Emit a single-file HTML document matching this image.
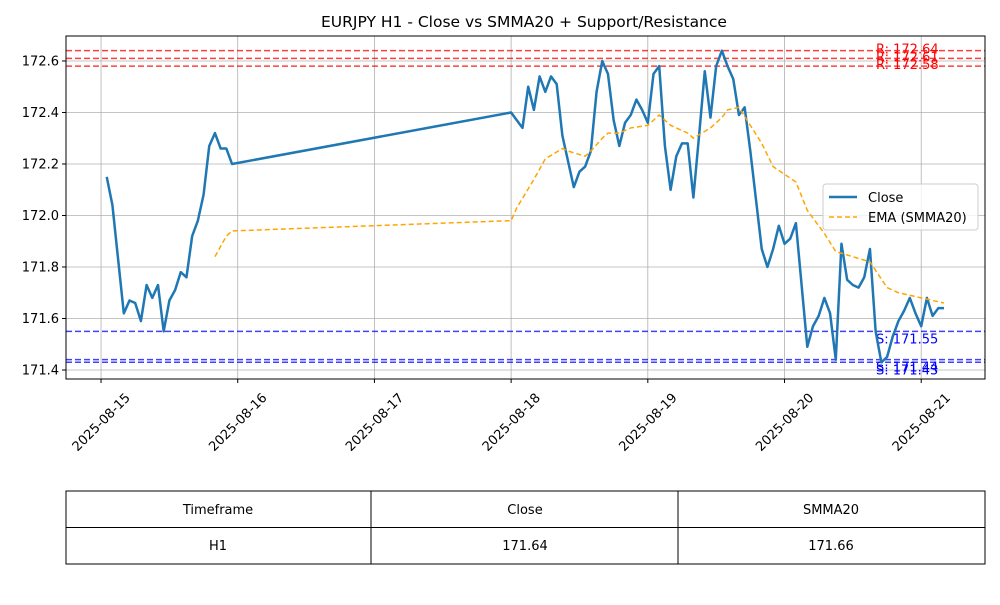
<!DOCTYPE html>
<html><head><meta charset="utf-8"><style>
body{margin:0;background:#fff;font-family:"Liberation Sans","DejaVu Sans",sans-serif;}
svg text{font-family:"DejaVu Sans","Liberation Sans",sans-serif;}
</style></head><body>
<svg id="chart" width="1000" height="600">
<rect width="1000" height="600" fill="#fff"/>
<text x="524" y="27" font-size="15.5" text-anchor="middle">EURJPY H1 - Close vs SMMA20 + Support/Resistance</text>
<g id="grid"></g><g id="levels"></g><g id="series"></g><g id="axes"></g>
<rect x="66" y="36" width="919" height="343" fill="none" stroke="#000" stroke-width="1"/>
<g>
<rect x="823" y="184" width="155" height="46" fill="#fff" fill-opacity="0.8" stroke="#ccc" rx="3"/>
<line x1="829" y1="197" x2="857" y2="197" stroke="#1f77b4" stroke-width="2.5"/>
<text x="868" y="202" font-size="13">Close</text>
<line x1="829" y1="217" x2="857" y2="217" stroke="orange" stroke-width="1.5" stroke-dasharray="5,3"/>
<text x="868" y="222" font-size="13">EMA (SMMA20)</text>
</g>
<g font-size="13">
<rect x="66" y="491" width="919" height="73" fill="none" stroke="#000"/>
<line x1="66" y1="527.5" x2="985" y2="527.5" stroke="#000"/>
<line x1="371" y1="491" x2="371" y2="564" stroke="#000"/>
<line x1="678" y1="491" x2="678" y2="564" stroke="#000"/>
<text x="218" y="514" text-anchor="middle">Timeframe</text>
<text x="525" y="514" text-anchor="middle">Close</text>
<text x="831" y="514" text-anchor="middle">SMMA20</text>
<text x="218" y="550" text-anchor="middle">H1</text>
<text x="525" y="550" text-anchor="middle">171.64</text>
<text x="831" y="550" text-anchor="middle">171.66</text>
</g>
</svg>
<script>
const closeHours=[1,2,3,4,5,6,7,8,9,10,11,12,13,14,15,16,17,18,19,20,21,22,23,
72,73,74,75,76,77,78,79,80,81,82,83,84,85,86,87,88,89,90,91,92,93,94,95,96,97,98,99,100,101,102,103,104,105,106,107,108,109,110,111,112,113,114,115,116,117,118,119,120,121,122,123,124,125,126,127,128,129,130,131,132,133,134,135,136,137,138,139,140,141,142,143,144,145,146,147,148];
const closeValues=[172.15,172.04,171.83,171.62,171.67,171.66,171.59,171.73,171.68,171.73,171.55,171.67,171.71,171.78,171.76,171.92,171.98,172.08,172.27,172.32,172.26,172.26,172.20,
172.40,172.37,172.34,172.50,172.41,172.54,172.48,172.54,172.51,172.31,172.21,172.11,172.17,172.19,172.25,172.48,172.60,172.55,172.37,172.27,172.36,172.39,172.45,172.41,172.36,172.55,172.58,172.27,172.10,172.23,172.28,172.28,172.07,172.31,172.56,172.38,172.58,172.64,172.58,172.53,172.39,172.42,172.25,172.06,171.87,171.80,171.87,171.96,171.89,171.91,171.97,171.73,171.49,171.57,171.61,171.68,171.62,171.44,171.89,171.75,171.73,171.72,171.76,171.87,171.55,171.43,171.45,171.53,171.59,171.63,171.68,171.62,171.57,171.68,171.61,171.64,171.64];
const smmaHours=[20,21,22,23,72,73,76,78,81,82,85,86,88,89,91,93,96,98,100,103,104,107,109,110,112,116,118,122,124,127,129,135,138,140,144,148];
const smmaValues=[171.84,171.88,171.92,171.94,171.98,172.03,172.14,172.22,172.26,172.25,172.23,172.25,172.30,172.32,172.32,172.34,172.35,172.39,172.35,172.32,172.30,172.34,172.38,172.41,172.42,172.28,172.19,172.13,172.02,171.93,171.86,171.82,171.72,171.70,171.68,171.66];
const resistance=[172.64,172.61,172.58];
const support=[171.55,171.44,171.43];
const yTicks=[171.4,171.6,171.8,172.0,172.2,172.4,172.6];
const xTickLabels=["2025-08-15","2025-08-16","2025-08-17","2025-08-18","2025-08-19","2025-08-20","2025-08-21"];

const NS="http://www.w3.org/2000/svg";
const X0=66,X1=985,Y0=36,Y1=379;
const hMin=-6.15,hMax=155.2,pMin=171.365,pMax=172.697;
const xs=h=>X0+(h-hMin)/(hMax-hMin)*(X1-X0);
const ys=p=>Y1-(p-pMin)/(pMax-pMin)*(Y1-Y0);
function mk(tag,attrs,parent){const e=document.createElementNS(NS,tag);for(const k in attrs)e.setAttribute(k,attrs[k]);document.getElementById(parent).appendChild(e);return e;}

yTicks.forEach(v=>{
  const y=ys(v);
  const g=mk('line',{x1:X0,x2:X1,y1:y,y2:y,stroke:'#b0b0b0','stroke-width':0.8},'grid');
  
  
  mk('line',{x1:X0-4,x2:X0,y1:y,y2:y,stroke:'#000'},'axes');
  const t=mk('text',{x:X0-7,y:y+4.5,'font-size':13,'text-anchor':'end'},'axes');
  t.textContent=v.toFixed(1);
  
  
});
xTickLabels.forEach((lab,i)=>{
  const x=xs(i*24);
  const g=mk('line',{x1:x,x2:x,y1:Y0,y2:Y1,stroke:'#b0b0b0','stroke-width':0.8},'grid');
  
  
  mk('line',{x1:x,x2:x,y1:Y1,y2:Y1+4,stroke:'#000'},'axes');
  const cx=x, cy=Y1+43;
  const t=mk('text',{x:cx,y:cy+4.5,'font-size':13,'text-anchor':'middle',transform:`rotate(-45 ${cx} ${cy})`},'axes');
  t.textContent=lab;
  
  
});
resistance.forEach(v=>{
  const y=ys(v);
  const l=mk('line',{x1:X0,x2:X1,y1:y,y2:y,stroke:'red','stroke-opacity':0.75,'stroke-width':1.5,'stroke-dasharray':'6,3'},'levels');
  
  
  const t=mk('text',{x:876,y:y+3,'font-size':13,fill:'red'},'levels');
  t.textContent='R: '+v.toFixed(2);
  
  
});
support.forEach(v=>{
  const y=ys(v);
  const l=mk('line',{x1:X0,x2:X1,y1:y,y2:y,stroke:'blue','stroke-opacity':0.75,'stroke-width':1.5,'stroke-dasharray':'6,3'},'levels');
  
  
  const t=mk('text',{x:876,y:y+12,'font-size':13,fill:'blue'},'levels');
  t.textContent='S: '+v.toFixed(2);
  
  
});
const cp=mk('polyline',{points:closeHours.map((h,i)=>xs(h)+','+ys(closeValues[i])).join(' '),fill:'none',stroke:'#1f77b4','stroke-width':2.5,'stroke-linejoin':'round'},'series');


const sp=mk('polyline',{points:smmaHours.map((h,i)=>xs(h)+','+ys(smmaValues[i])).join(' '),fill:'none',stroke:'orange','stroke-width':1.5,'stroke-dasharray':'5,3'},'series');


</script>
</body></html>
